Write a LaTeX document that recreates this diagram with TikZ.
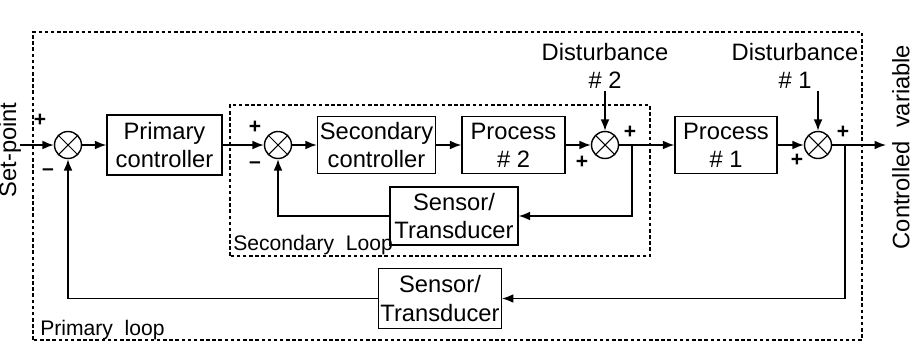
\documentclass[tikz,border=0pt]{standalone}
\usepackage{fontspec}
\setmainfont{Liberation Sans}
\usetikzlibrary{arrows.meta,positioning,calc}

\begin{document}
\begin{tikzpicture}[
  font=\fontsize{13.5}{16}\selectfont,
  >={Latex[length=6.5pt,width=5pt]},
  blk/.style={draw, line width=0.8pt, align=center, inner sep=1pt},
  sumj/.style={draw, circle, line width=0.8pt, minimum size=0.54cm, inner sep=0pt,
    path picture={\draw[line width=0.6pt] (path picture bounding box.north west) -- (path picture bounding box.south east)
      (path picture bounding box.north east) -- (path picture bounding box.south west);}},
  sgn/.style={inner sep=0pt, font=\fontsize{12}{12}\selectfont\bfseries},
  distlbl/.style={anchor=south, align=center, inner sep=1pt},
  loopbox/.style={draw, dash pattern=on 2pt off 1.5pt, line width=0.6pt},
  looplbl/.style={anchor=base west, inner sep=0pt, font=\fontsize{12}{14}\selectfont},
  arr/.style={->, line width=0.8pt}
]
\useasboundingbox (0,0) rectangle (18.34,7.12);

\draw[loopbox] (0.66,0.32) rectangle (17.24,6.48);
\draw[loopbox] (4.6,2.0) rectangle (13.0,5.02);

\node[rotate=90] (sp) at (0.2,4.12) {Set-point};
\coordinate (in) at (0.4,4.22);
\node[sumj] (sum1) at (1.36,4.22) {};
\node[blk, minimum width=2.3cm, minimum height=1.2cm] (pc) at (3.29,4.22) {Primary\\controller};
\node[sumj] (sum2) at (5.56,4.22) {};
\node[blk, minimum width=2.36cm, minimum height=1.14cm] (sc) at (7.53,4.22) {Secondary\\controller};
\node[blk, minimum width=2.06cm, minimum height=1.14cm] (p2) at (10.27,4.22) {Process\\\# 2};
\node[sumj] (sum3) at (12.1,4.22) {};
\node[blk, minimum width=2.04cm, minimum height=1.14cm] (p1) at (14.52,4.22) {Process\\\# 1};
\node[sumj] (sum4) at (16.36,4.22) {};
\coordinate (out) at (17.72,4.22);
\node[rotate=90] (cv) at (18.02,4.18) {Controlled\ \ variable};

\node[blk, minimum width=2.56cm, minimum height=1.16cm] (sens2) at (9.08,2.8) {Sensor/\\Transducer};
\node[blk, minimum width=2.28cm, minimum height=1.2cm] (sens1) at (8.8,1.15) {Sensor/\\Transducer};

\node[distlbl] (dist2) at (12.1,5.3) {Disturbance\\\# 2};
\node[distlbl] (dist1) at (15.9,5.3) {Disturbance\\\# 1};

\coordinate (br2) at (12.64,4.22);
\coordinate (br1) at (16.9,4.22);

\draw[arr] (in) -- (sum1);
\draw[arr] (sum1) -- (pc);
\draw[arr] (pc) -- (sum2);
\draw[arr] (sum2) -- (sc);
\draw[arr] (sc) -- (p2);
\draw[arr] (p2) -- (sum3);
\draw[arr] (sum3) -- (p1);
\draw[arr] (p1) -- (sum4);
\draw[arr] (sum4) -- (out);
\draw[arr] (dist2.south) -- (sum3.north);
\draw[arr] (dist1.south -| sum4.north) -- (sum4.north);
\draw[arr] (br2) |- (sens2.east);
\draw[arr] (sens2.west) -| (sum2.south);
\draw[arr] (br1) |- (sens1.east);
\draw[arr] (sens1.west) -| (sum1.south);

\node[sgn] at ($(sum1)+(-0.56,0.5)$) {+};
\node[sgn] at ($(sum1)+(-0.4,-0.54)$) {--};
\node[sgn] at ($(sum2)+(-0.46,0.36)$) {+};
\node[sgn] at ($(sum2)+(-0.46,-0.4)$) {--};
\node[sgn] at ($(sum3)+(0.5,0.26)$) {+};
\node[sgn] at ($(sum3)+(-0.46,-0.34)$) {+};
\node[sgn] at ($(sum4)+(0.5,0.26)$) {+};
\node[sgn] at ($(sum4)+(-0.42,-0.3)$) {+};

\node[looplbl] (seclbl) at (4.66,2.12) {Secondary\ \ Loop};
\node[looplbl] (prilbl) at (0.8,0.42) {Primary\ \ loop};
\end{tikzpicture}
\end{document}
